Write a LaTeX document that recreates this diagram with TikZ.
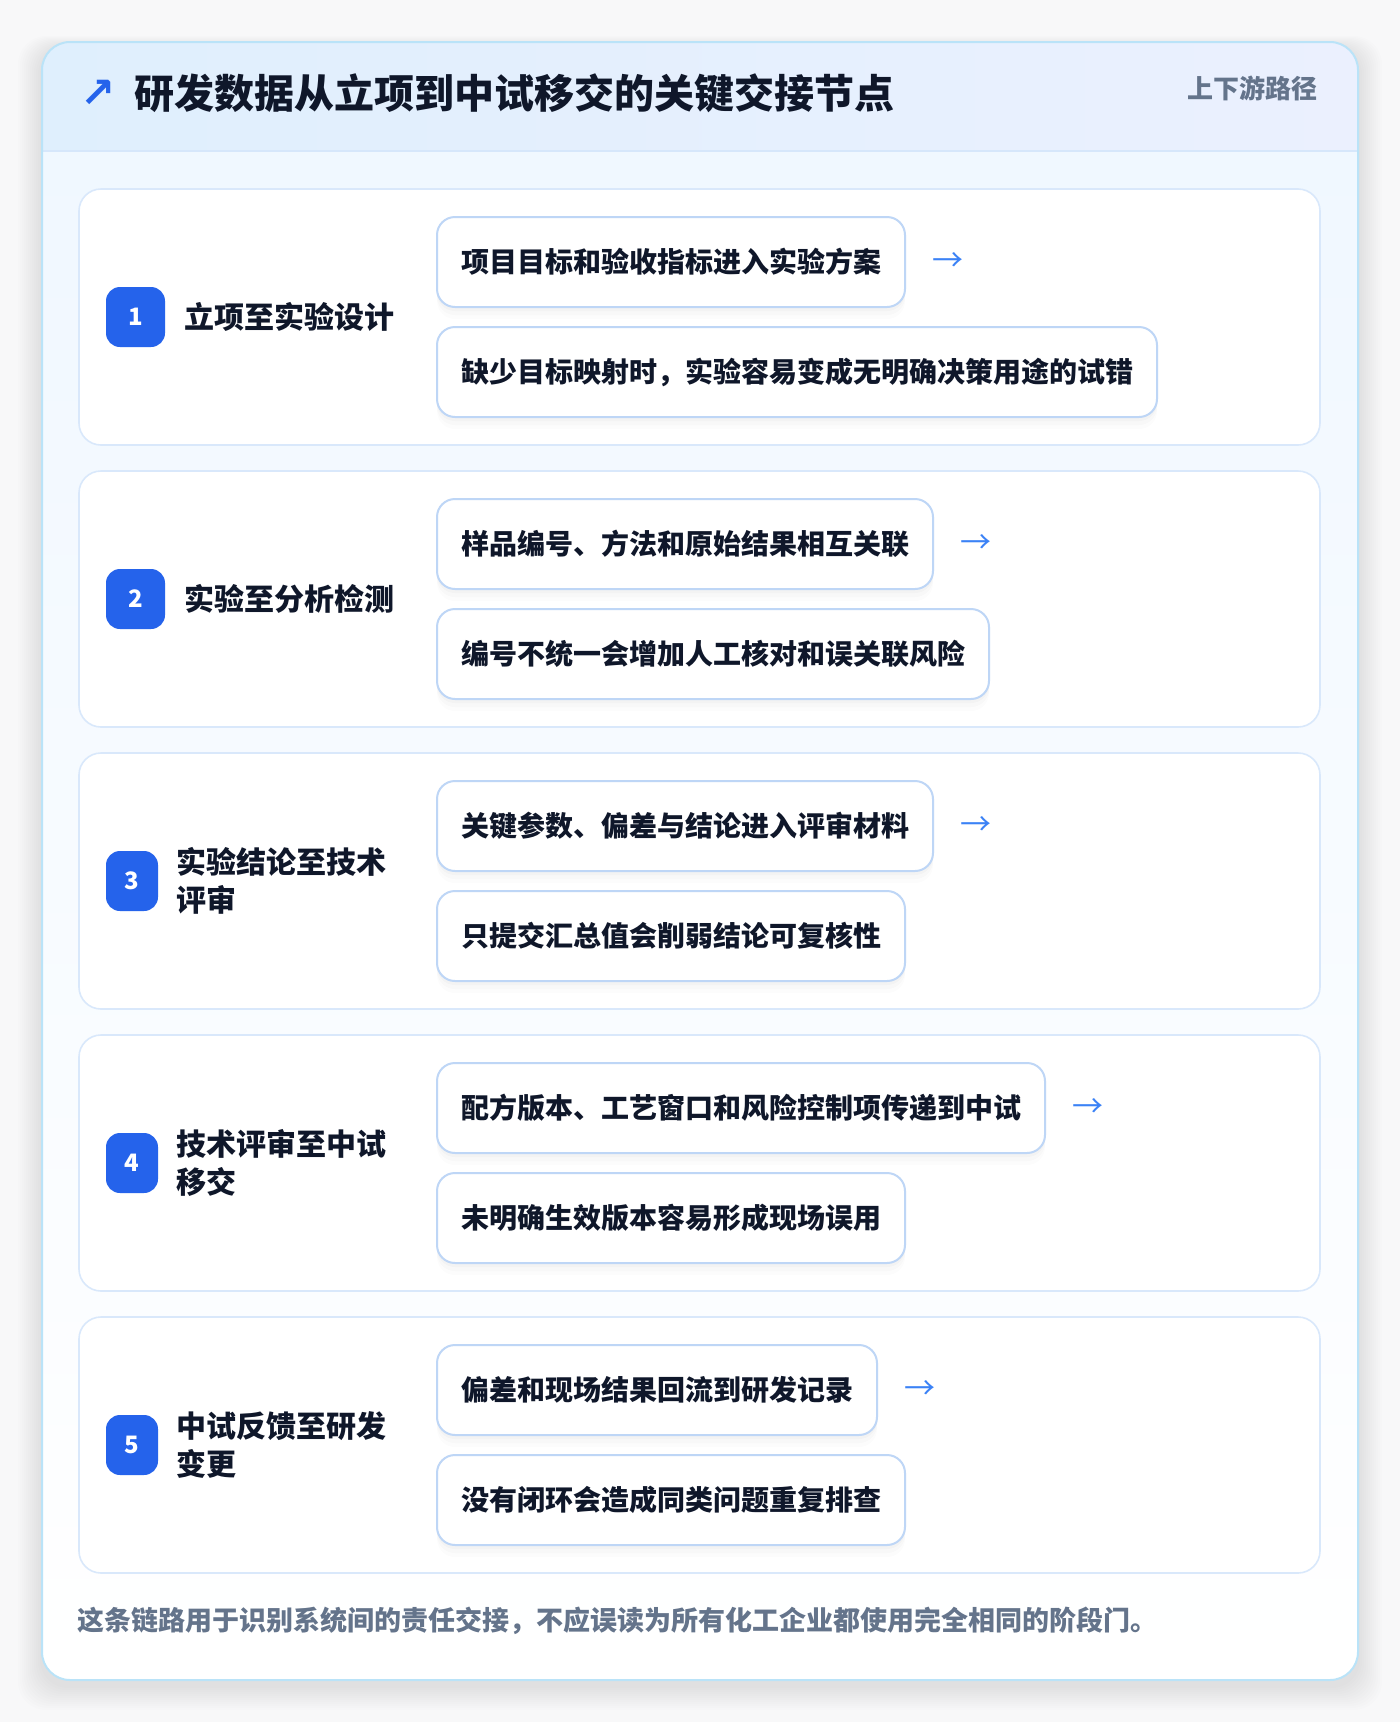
\documentclass[tikz,border=0pt]{standalone}
\usepackage{fontspec}
\setmainfont{Noto Sans CJK SC}
\newfontfamily\symbolfont{DejaVu Sans}
\usepackage{tikz}
\usetikzlibrary{positioning,shadows}

\definecolor{pagebg}{HTML}{F8F8F9}
\definecolor{cardedge}{HTML}{BAE3F8}
\definecolor{headleft}{HTML}{DFEFFD}
\definecolor{headright}{HTML}{EBF0FE}
\definecolor{headline}{HTML}{D6E7FB}
\definecolor{bodytop}{HTML}{EFF7FF}
\definecolor{rowedge}{HTML}{D9E8FB}
\definecolor{itemedge}{HTML}{BED6F6}
\definecolor{badgeblue}{HTML}{2563EB}
\definecolor{ink}{HTML}{0F172A}
\definecolor{muted}{HTML}{64748B}
\definecolor{flowblue}{HTML}{3B82F6}

\begin{document}
\begin{tikzpicture}[x=1pt,y=-1pt]
    \tikzstyle{rowcard}=[draw=rowedge, line width=1.6pt, fill=white, rounded corners=22pt, minimum width=1241pt, minimum height=256pt, inner sep=0pt]
    \tikzstyle{badge}=[fill=badgeblue, text=white, rounded corners=14pt, minimum height=60pt, inner sep=0pt, font=\fontsize{24}{28}\selectfont\bfseries]
    \tikzstyle{stage}=[anchor=west, text=ink, inner sep=0pt, align=left, font=\fontsize{30}{38}\selectfont\bfseries]
    \tikzstyle{item}=[anchor=west, draw=itemedge, line width=2pt, fill=white, rounded corners=18pt, minimum height=90pt, inner xsep=24pt, inner ysep=0pt, text=ink, font=\fontsize{28}{34}\selectfont\bfseries,
        drop shadow={shadow xshift=0pt, shadow yshift=-12pt, opacity=0.012, fill=black},
        drop shadow={shadow xshift=0pt, shadow yshift=-8pt, opacity=0.016, fill=black},
        drop shadow={shadow xshift=0pt, shadow yshift=-4pt, opacity=0.02, fill=black}]
    \tikzstyle{flow}=[text=flowblue, inner sep=0pt, font=\fontsize{31}{34}\selectfont]

    \useasboundingbox (0,0) rectangle (1400,1722);
    \fill[pagebg] (0,0) rectangle (1400,1722);

    % card with soft shadow
    \foreach \k in {1,...,12}
        \fill[black, opacity=0.008, rounded corners=28pt] (42-\k*2,42-\k+6) rectangle (1358+\k*2,1680+\k*2+6);
    \fill[white, rounded corners=28pt] (42,42) rectangle (1358,1680);
    \shade[top color=bodytop, bottom color=white, rounded corners=28pt] (42,42) rectangle (1358,1680);
    \begin{scope}
        \clip[rounded corners=28pt] (42,42) rectangle (1358,1680);
        \shade[left color=headleft, right color=headright] (42,42) rectangle (1358,151);
    \end{scope}
    \draw[headline, line width=2pt] (43,151) -- (1357,151);
    \draw[cardedge, line width=2pt, rounded corners=28pt] (42,42) rectangle (1358,1680);

    % header
    \node[anchor=west, text=badgeblue, inner sep=0pt, font=\symbolfont\fontsize{42}{46}\selectfont\bfseries] (mark) at (80,94) {↗};
    \node[anchor=west, text=ink, inner sep=0pt, font=\fontsize{40}{48}\selectfont\bfseries] (title) at (134,93) {研发数据从立项到中试移交的关键交接节点};
    \node[anchor=east, text=muted, inner sep=0pt, font=\fontsize{26}{30}\selectfont\bfseries] (route) at (1318,88) {上下游路径};

    % stage 1
    \node[rowcard] (row1) at (699.5,317) {};
    \node[badge, minimum width=59pt] (n1) at (135.5,317) {1};
    \node[stage] (s1) at (184,317) {立项至实验设计};
    \node[item] (a1) at (436,262) {项目目标和验收指标进入实验方案};
    \node[flow, right=26pt of a1] (f1) {→};
    \node[item] (b1) at (436,372) {缺少目标映射时，实验容易变成无明确决策用途的试错};

    % stage 2
    \node[rowcard] (row2) at (699.5,599) {};
    \node[badge, minimum width=59pt] (n2) at (135.5,599) {2};
    \node[stage] (s2) at (184,599) {实验至分析检测};
    \node[item] (a2) at (436,544) {样品编号、方法和原始结果相互关联};
    \node[flow, right=26pt of a2] (f2) {→};
    \node[item] (b2) at (436,654) {编号不统一会增加人工核对和误关联风险};

    % stage 3
    \node[rowcard] (row3) at (699.5,881) {};
    \node[badge, minimum width=52pt] (n3) at (132,881) {3};
    \node[stage] (s3) at (176,881) {实验结论至技术\\评审};
    \node[item] (a3) at (436,826) {关键参数、偏差与结论进入评审材料};
    \node[flow, right=26pt of a3] (f3) {→};
    \node[item] (b3) at (436,936) {只提交汇总值会削弱结论可复核性};

    % stage 4
    \node[rowcard] (row4) at (699.5,1163) {};
    \node[badge, minimum width=52pt] (n4) at (132,1163) {4};
    \node[stage] (s4) at (176,1163) {技术评审至中试\\移交};
    \node[item] (a4) at (436,1108) {配方版本、工艺窗口和风险控制项传递到中试};
    \node[flow, right=26pt of a4] (f4) {→};
    \node[item] (b4) at (436,1218) {未明确生效版本容易形成现场误用};

    % stage 5
    \node[rowcard] (row5) at (699.5,1445) {};
    \node[badge, minimum width=52pt] (n5) at (132,1445) {5};
    \node[stage] (s5) at (176,1445) {中试反馈至研发\\变更};
    \node[item] (a5) at (436,1390) {偏差和现场结果回流到研发记录};
    \node[flow, right=26pt of a5] (f5) {→};
    \node[item] (b5) at (436,1500) {没有闭环会造成同类问题重复排查};

    % footnote
    \node[anchor=west, text=muted, inner sep=0pt, font=\fontsize{27}{32}\selectfont\bfseries] (note) at (77,1621) {这条链路用于识别系统间的责任交接，不应误读为所有化工企业都使用完全相同的阶段门。};
\end{tikzpicture}
\end{document}
